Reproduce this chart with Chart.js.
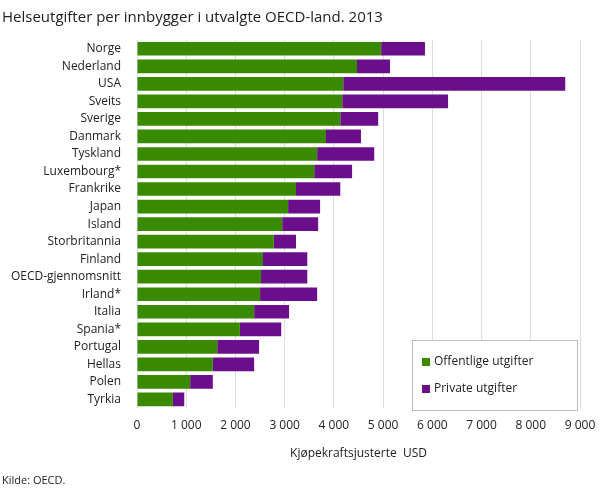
<!DOCTYPE html>
<html><head><meta charset="utf-8">
<script src="https://cdn.jsdelivr.net/npm/chart.js@4"></script>
<style>
body{margin:0;font-family:"Open Sans",sans-serif;}
#wrap{position:relative;width:609px;height:489px;}
#title{position:absolute;left:2px;top:6px;font-size:15px;color:#222;}
#src{position:absolute;left:2px;top:472px;font-size:11px;color:#222;}
</style></head>
<body><div id="wrap">
<canvas id="c" width="609" height="489"></canvas>
<div id="title">Helseutgifter per innbygger i utvalgte OECD-land. 2013</div>
<div id="src">Kilde: OECD.</div>
</div>
<script>
const countries = ["Norge","Nederland","USA","Sveits","Sverige","Danmark","Tyskland","Luxembourg*","Frankrike","Japan","Island","Storbritannia","Finland","OECD-gjennomsnitt","Irland*","Italia","Spania*","Portugal","Hellas","Polen","Tyrkia"];
const publicSpend = [4960,4470,4190,4170,4130,3840,3660,3600,3230,3070,2950,2780,2560,2520,2500,2380,2090,1630,1540,1080,730];
const totalSpend = [5850,5140,8700,6320,4900,4550,4820,4370,4130,3720,3680,3230,3460,3460,3660,3090,2930,2480,2380,1540,960];
const privateSpend = totalSpend.map((t, i) => t - publicSpend[i]);
const xTicks = [0,1000,2000,3000,4000,5000,6000,7000,8000,9000];

const insideLegend = {
    id: "insideLegend",
    afterDraw(chart) {
        const ctx = chart.ctx;
        const x = 412, y = 340, w = 165, h = 70;
        ctx.save();
        ctx.fillStyle = "#fff";
        ctx.strokeStyle = "#bbb";
        ctx.fillRect(x, y, w, h);
        ctx.strokeRect(x + 0.5, y + 0.5, w, h);
        ctx.font = "12px 'Open Sans'";
        ctx.textBaseline = "middle";
        chart.data.datasets.forEach((ds, i) => {
            const yy = y + 22 + i * 27;
            ctx.fillStyle = ds.backgroundColor;
            ctx.fillRect(x + 10, yy - 4, 8, 8);
            ctx.fillStyle = "#222";
            ctx.fillText(ds.label, x + 22, yy);
        });
        ctx.restore();
    }
};

new Chart(document.getElementById("c"), {
    type: "bar",
    data: {
        labels: countries,
        datasets: [
            { label: "Offentlige utgifter", data: publicSpend, backgroundColor: "#3a8a00" },
            { label: "Private utgifter", data: privateSpend, backgroundColor: "#6b0e8c" }
        ]
    },
    options: {
        responsive: false,
        animation: false,
        indexAxis: "y",
        layout: { padding: { top: 40, right: 29, bottom: 24, left: 0 } },
        plugins: { legend: { display: false }, tooltip: { enabled: false } },
        datasets: { bar: { barPercentage: 0.78, categoryPercentage: 1 } },
        scales: {
            x: {
                stacked: true, min: 0, max: 9000,
                afterBuildTicks: a => { a.ticks = xTicks.map(v => ({ value: v })); },
                grid: { color: "#ddd", drawTicks: false },
                border: { display: false },
                ticks: {
                    padding: 10, color: "#222", font: { size: 12, family: "Open Sans" },
                    callback: v => String(v).replace(/\B(?=(\d{3})+(?!\d))/g, "\u00a0")
                },
                title: { display: true, text: "Kjøpekraftsjusterte  USD", color: "#222", font: { size: 12, family: "Open Sans" }, padding: { top: 4 } }
            },
            y: {
                stacked: true,
                grid: { display: false },
                border: { display: false },
                ticks: { color: "#222", font: { size: 12, family: "Open Sans" }, padding: 8 },
                afterFit: a => { a.width = 137; }
            }
        }
    },
    plugins: [insideLegend]
});
</script>
</body></html>
